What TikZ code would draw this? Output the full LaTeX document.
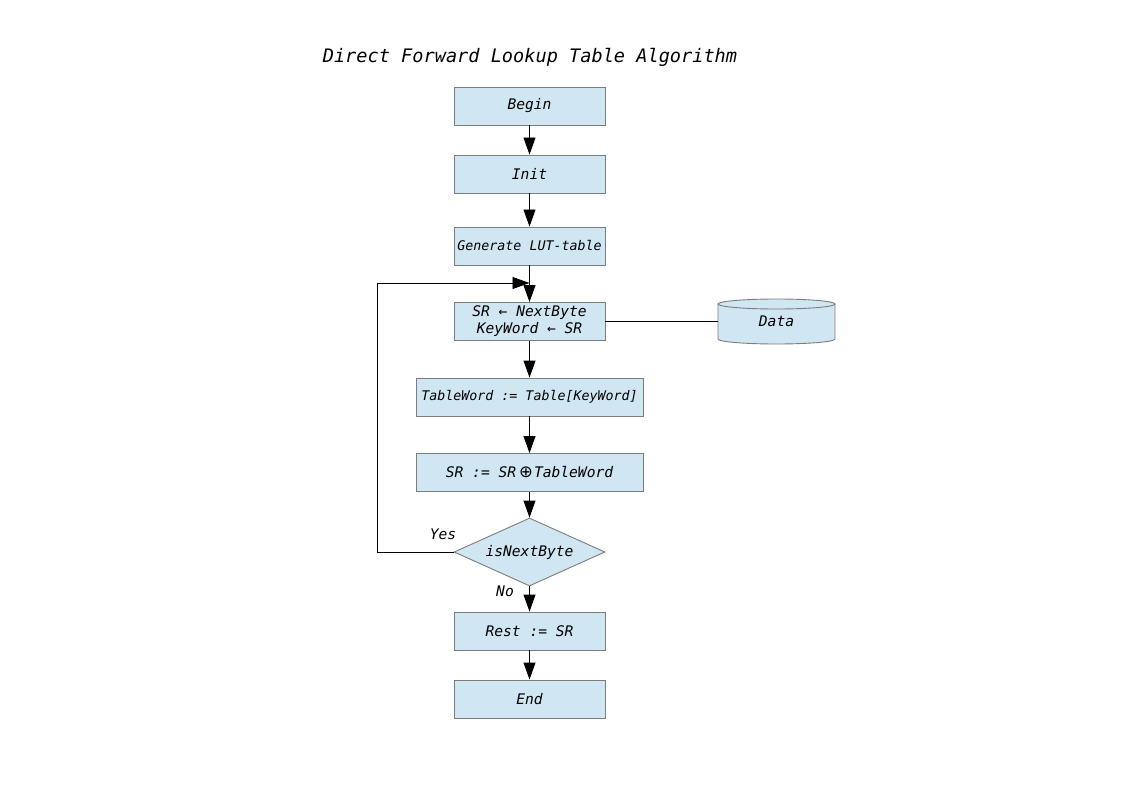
\documentclass[tikz,border=0pt]{standalone}
\usepackage{fontspec}
\setmonofont{DejaVu Sans Mono}
\newfontfamily\symfont{DejaVu Sans}
\usetikzlibrary{shapes.geometric,arrows.meta}
\definecolor{boxfill}{RGB}{208,230,243}
\definecolor{boxline}{RGB}{125,125,125}
\begin{document}
\begin{tikzpicture}[x=1pt,y=-1pt,
    txt/.style={font=\fontsize{14.6}{17}\selectfont\ttfamily\itshape},
    box/.style={txt,draw=boxline,fill=boxfill,line width=0.9pt,minimum width=151pt,minimum height=38pt,inner sep=1pt,align=center},
    wide/.style={box,minimum width=227pt},
    small/.style={font=\fontsize{13.3}{15}\selectfont\ttfamily\itshape},
    arr/.style={line width=0.9pt,-{Triangle[length=17pt,width=12pt]}}]
    \useasboundingbox (0,0) rectangle (1123,794);
    \node[font=\fontsize{18.6}{22}\selectfont\ttfamily\itshape] (title) at (530,57) {Direct Forward Lookup Table Algorithm};
    \node[box] (begin) at (529.5,106) {Begin};
    \node[box] (init) at (529.5,174) {Init};
    \node[box,small] (gen) at (529.5,246) {Generate LUT-table};
    \node[box] (sr) at (529.5,321.5) {SR ← NextByte\\KeyWord ← SR};
    \node[wide,small] (tword) at (529.5,397) {TableWord := Table[KeyWord]};
    \node[wide] (xor) at (529.5,472.5) {SR := SR{\upshape\symfont\fontsize{16.5}{17}\selectfont\kern3pt⊕\kern1pt}TableWord};
    \node[box,diamond,aspect=2.2,inner sep=0pt,minimum height=68pt] (cond) at (529.5,552) {isNextByte};
    \node[box] (rest) at (529.5,631) {Rest := SR};
    \node[box] (stop) at (529.5,699) {End};
    % data store
    \fill[boxfill,draw=boxline,line width=0.9pt] (718,304) -- (718,339) arc[start angle=180,end angle=0,x radius=58.5,y radius=5] -- (835,304) -- cycle;
    \draw[boxline,fill=boxfill,line width=0.9pt] (776.5,304) ellipse [x radius=58.5,y radius=5];
    \node[txt,minimum width=117pt,minimum height=45pt,inner sep=0pt] (data) at (776.5,321.5) {Data};
    \node[txt] (yes) at (443,534) {Yes};
    \node[txt] (no) at (505,591) {No};
    \coordinate (loop) at (529.5,283);
    \draw[arr] (begin) -- (init);
    \draw[arr] (init) -- (gen);
    \draw[arr] (gen) -- (sr);
    \draw[line width=0.9pt] (sr) -- (data);
    \draw[arr] (sr) -- (tword);
    \draw[arr] (tword) -- (xor);
    \draw[arr] (xor) -- (cond);
    \draw[arr] (cond.west) -- ++(-76,0) |- (loop);
    \draw[arr] (cond) -- (rest);
    \draw[arr] (rest) -- (stop);
\end{tikzpicture}
\end{document}
